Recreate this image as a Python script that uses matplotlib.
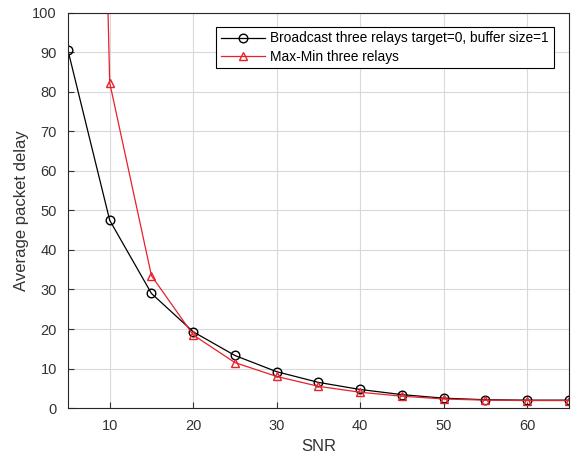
import matplotlib
matplotlib.use("Agg")
import matplotlib.pyplot as plt

snr = [5, 10, 15, 20, 25, 30, 35, 40, 45, 50, 55, 60, 65]
broadcast = [90.5, 47.5, 29.0, 19.3, 13.3, 9.2, 6.5, 4.7, 3.4, 2.5, 2.1, 2.0, 2.0]
maxmin = [520.0, 82.3, 33.5, 18.5, 11.5, 8.0, 5.5, 4.0, 3.0, 2.3, 2.0, 1.9, 1.9]
xticks = [10, 20, 30, 40, 50, 60]
yticks = [0, 10, 20, 30, 40, 50, 60, 70, 80, 90, 100]

plt.rcParams['font.family'] = ['Liberation Sans', 'DejaVu Sans']

fig = plt.figure(figsize=(5.81, 4.59), dpi=100)
ax = fig.add_axes([0.117, 0.111, 0.862, 0.861])

ax.plot(snr, broadcast, color='black', marker='o', markersize=6.2, markerfacecolor='none',
        linewidth=0.9, label='Broadcast three relays target=0, buffer size=1')
ax.plot(snr, maxmin, color='#e8202a', marker='^', markersize=6.2, markerfacecolor='none',
        linewidth=0.9, label='Max-Min three relays')

ax.set_xlim(5, 65)
ax.set_ylim(0, 100)
ax.set_xticks(xticks)
ax.set_yticks(yticks)
ax.grid(True, color='#d9d9d9', linewidth=0.8)
ax.set_axisbelow(True)
ax.tick_params(direction='in', length=4, labelsize=10.5, colors='#333333', pad=8)
for s in ax.spines.values():
    s.set_color('#262626')
    s.set_linewidth(0.8)

ax.set_xlabel('SNR', fontsize=12, color='#333333')
ax.set_ylabel('Average packet delay', fontsize=12, color='#333333', labelpad=2)

leg = ax.legend(loc='upper right', bbox_to_anchor=(0.970, 0.965), borderaxespad=0,
                fontsize=9.9, fancybox=False, edgecolor='black', framealpha=1,
                handlelength=3.2, borderpad=0.35, labelspacing=0.3, handletextpad=0.4)
leg.get_frame().set_linewidth(0.8)

fig.savefig('out.png', dpi=100)
